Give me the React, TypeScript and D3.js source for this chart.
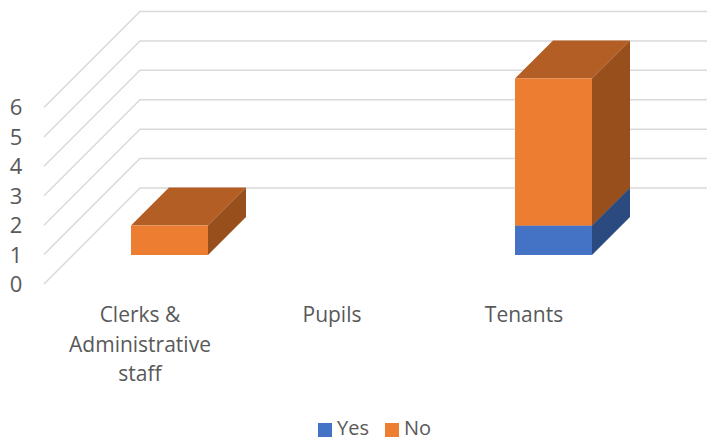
import React from "react";
import * as d3 from "d3";

const categories = [["Clerks &", "Administrative", "staff"], ["Pupils"], ["Tenants"]];
const yesValues = [0, 0, 1];
const noValues = [1, 0, 5];
const yTicks = [0, 1, 2, 3, 4, 5, 6];

const W = 707, H = 441;
const y = d3.scaleLinear().domain([0, 6]).range([284, 107.5]);
const x = d3.scaleBand<number>().domain([0, 1, 2]).range([73.5, 649.5]);
const BAR_W = 77, WALL = 96, FRONT = 29, DEPTH = 38;
const FONT = "'Open Sans', sans-serif";
const TXT = "#595959";

type Shade = { face: string; top: string; side: string };
const yesShade: Shade = { face: "#4472c4", top: "#355a9c", side: "#2a4a80" };
const noShade: Shade = { face: "#ed7d31", top: "#b35e24", side: "#994f1c" };

function Box({ cx, v0, v1, shade }: { cx: number; v0: number; v1: number; shade: Shade }) {
  if (v1 <= v0) return null;
  const l = cx - BAR_W / 2, r = cx + BAR_W / 2;
  const b = y(v0) - FRONT, t = y(v1) - FRONT;
  const pts = (p: number[][]) => p.map((q) => q.join(",")).join(" ");
  return (
    <g>
      <polygon points={pts([[l, t], [r, t], [r + DEPTH, t - DEPTH], [l + DEPTH, t - DEPTH]])} fill={shade.top} />
      <polygon points={pts([[r, b], [r, t], [r + DEPTH, t - DEPTH], [r + DEPTH, b - DEPTH]])} fill={shade.side} />
      <rect x={l} y={t} width={BAR_W} height={b - t} fill={shade.face} />
    </g>
  );
}

export default function App() {
  const center = (i: number) => x(i)! + x.bandwidth() / 2;
  return (
    <svg width={W} height={H} style={{ position: "absolute", left: 0, top: 0, background: "#fff" }} fontFamily={FONT}>
      {yTicks.map((t) => (
        <g key={t}>
          <polyline
            points={`44,${y(t)} ${44 + WALL},${y(t) - WALL} ${W},${y(t) - WALL}`}
            fill="none"
            stroke="#d9d9d9"
            strokeWidth={1.5}
          />
          <text x={16} y={y(t)} dy="0.36em" textAnchor="middle" fontSize={22} fill={TXT}>{t}</text>
        </g>
      ))}
      {categories.map((_, i) => (
        <g key={i}>
          <Box cx={center(i)} v0={0} v1={yesValues[i]} shade={yesShade} />
          <Box cx={center(i)} v0={yesValues[i]} v1={yesValues[i] + noValues[i]} shade={noShade} />
        </g>
      ))}
      {categories.map((lines, i) => (
        <text key={i} textAnchor="middle" fontSize={21} fill={TXT}>
          {lines.map((s, j) => (
            <tspan key={j} x={center(i) - 29.5} y={322 + j * 29.5}>{s}</tspan>
          ))}
        </text>
      ))}
      <rect x={318} y={423} width={14} height={14} fill={yesShade.face} />
      <text x={337} y={435} fontSize={20} fill={TXT}>Yes</text>
      <rect x={385} y={423} width={14} height={14} fill={noShade.face} />
      <text x={404} y={435} fontSize={20} fill={TXT}>No</text>
    </svg>
  );
}
